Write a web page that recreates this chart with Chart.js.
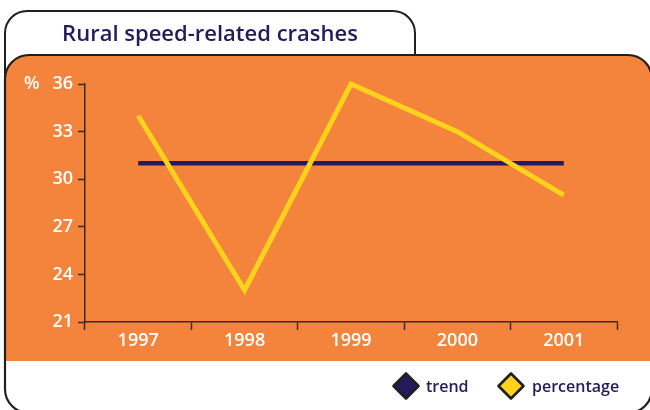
<!DOCTYPE html>
<html><head><meta charset="utf-8">
<script src="https://cdn.jsdelivr.net/npm/chart.js@4.4.1/dist/chart.umd.min.js"></script>
<style>html,body{margin:0;padding:0;background:#fff;overflow:hidden}#wrap{width:650px;height:410px;position:relative}</style>
</head><body><div id="wrap"><canvas id="c" width="650" height="410"></canvas></div>
<script>
// ---- data ----
const categories = ['1997', '1998', '1999', '2000', '2001'];
const trendValues = [31, 31, 31, 31, 31];
const percentageValues = [34, 23, 36, 33, 29];
const yTickValues = [21, 24, 27, 30, 33, 36];
const chartTitle = 'Rural speed-related crashes';
const yUnit = '%';
const seriesNames = ['trend', 'percentage'];

// ---- styles ----
const ORANGE = '#F4843B';
const NAVY = '#241A5C';
const YELLOW = '#FFD21C';
const INK = '#231F20';
const AXIS = '#3A2A22';
const FONT = '"Open Sans", "DejaVu Sans", sans-serif';

function roundRect(ctx, x, y, w, h, r) {
  const [tl, tr, br, bl] = r;
  ctx.beginPath();
  ctx.moveTo(x + tl, y);
  ctx.lineTo(x + w - tr, y);
  ctx.arcTo(x + w, y, x + w, y + tr, tr);
  ctx.lineTo(x + w, y + h - br);
  ctx.arcTo(x + w, y + h, x + w - br, y + h, br);
  ctx.lineTo(x + bl, y + h);
  ctx.arcTo(x, y + h, x, y + h - bl, bl);
  ctx.lineTo(x, y + tl);
  ctx.arcTo(x, y, x + tl, y, tl);
  ctx.closePath();
}

const decor = {
  id: 'decor',
  beforeDraw(chart) {
    const ctx = chart.ctx;
    ctx.save();
    ctx.fillStyle = '#fff';
    ctx.fillRect(0, 0, chart.width, chart.height);
    // title tab
    roundRect(ctx, 5, 11, 410, 90, [22, 22, 0, 0]);
    ctx.fillStyle = '#fff';
    ctx.fill();
    ctx.lineWidth = 2;
    ctx.strokeStyle = INK;
    ctx.stroke();
    // body
    roundRect(ctx, 5, 55, 647, 358, [24, 24, 24, 24]);
    ctx.fillStyle = '#fff';
    ctx.fill();
    ctx.save();
    ctx.clip();
    ctx.fillStyle = ORANGE;
    ctx.fillRect(0, 55, chart.width, 306);
    ctx.restore();
    roundRect(ctx, 5, 55, 647, 358, [24, 24, 24, 24]);
    ctx.lineWidth = 2.2;
    ctx.strokeStyle = INK;
    ctx.stroke();
    // title text
    ctx.fillStyle = NAVY;
    ctx.font = '600 22px ' + FONT;
    ctx.textAlign = 'center';
    ctx.textBaseline = 'alphabetic';
    ctx.fillText(chartTitle, 210, 41);
    ctx.restore();
  },
  afterDraw(chart) {
    const ctx = chart.ctx;
    const y = chart.scales.y;
    ctx.save();
    // unit label next to the top tick
    ctx.fillStyle = '#fff';
    ctx.font = '600 18px ' + FONT;
    ctx.textAlign = 'left';
    ctx.textBaseline = 'middle';
    ctx.fillText(yUnit, 24, y.getPixelForValue(yTickValues[yTickValues.length - 1]));
    // legend
    const items = [
      { x: 406, tx: 426 },
      { x: 511, tx: 532 }
    ];
    chart.data.datasets.forEach((ds, i) => {
      const it = items[i];
      const cy = 386, r = 12.5;
      ctx.beginPath();
      ctx.moveTo(it.x, cy - r);
      ctx.lineTo(it.x + r, cy);
      ctx.lineTo(it.x, cy + r);
      ctx.lineTo(it.x - r, cy);
      ctx.closePath();
      ctx.fillStyle = ds.borderColor;
      ctx.fill();
      ctx.lineJoin = 'round';
      ctx.lineWidth = 2.6;
      ctx.strokeStyle = INK;
      ctx.stroke();
      ctx.fillStyle = NAVY;
      ctx.font = '600 16px ' + FONT;
      ctx.textAlign = 'left';
      ctx.textBaseline = 'alphabetic';
      ctx.fillText(ds.label, it.tx, 392);
    });
    ctx.restore();
  }
};

new Chart(document.getElementById('c'), {
  type: 'line',
  data: {
    labels: categories,
    datasets: [
      { label: seriesNames[0], data: trendValues, borderColor: NAVY, backgroundColor: NAVY,
        borderWidth: 4.5, pointRadius: 0, tension: 0, order: 2, clip: false },
      { label: seriesNames[1], data: percentageValues, borderColor: YELLOW, backgroundColor: YELLOW,
        borderWidth: 5, pointRadius: 0, tension: 0, order: 1, clip: false, borderJoinStyle: 'miter' }
    ]
  },
  options: {
    responsive: false,
    animation: false,
    devicePixelRatio: 1,
    layout: { padding: { left: 0, right: 33, top: 84, bottom: 0 } },
    plugins: { legend: { display: false }, title: { display: false }, tooltip: { enabled: false } },
    scales: {
      x: {
        type: 'category',
        offset: true,
        grid: { offset: true, drawOnChartArea: false, drawTicks: true, tickLength: 8, tickColor: AXIS, tickWidth: 1.5 },
        border: { display: true, color: AXIS, width: 1.5 },
        ticks: { color: '#fff', font: { family: FONT, size: 18, weight: '600' }, padding: 0, maxRotation: 0 },
        afterFit(s) { s.height = 410 - 322; }
      },
      y: {
        min: 21, max: 36,
        afterBuildTicks(s) { s.ticks = yTickValues.map(v => ({ value: v })); },
        grid: { drawOnChartArea: false, drawTicks: true, tickLength: 7, tickColor: AXIS, tickWidth: 1.5 },
        border: { display: true, color: AXIS, width: 1.5 },
        ticks: { color: '#fff', font: { family: FONT, size: 18, weight: '600' }, padding: 5 },
        afterFit(s) { s.width = 85; }
      }
    }
  },
  plugins: [decor]
});
</script>
</body></html>
